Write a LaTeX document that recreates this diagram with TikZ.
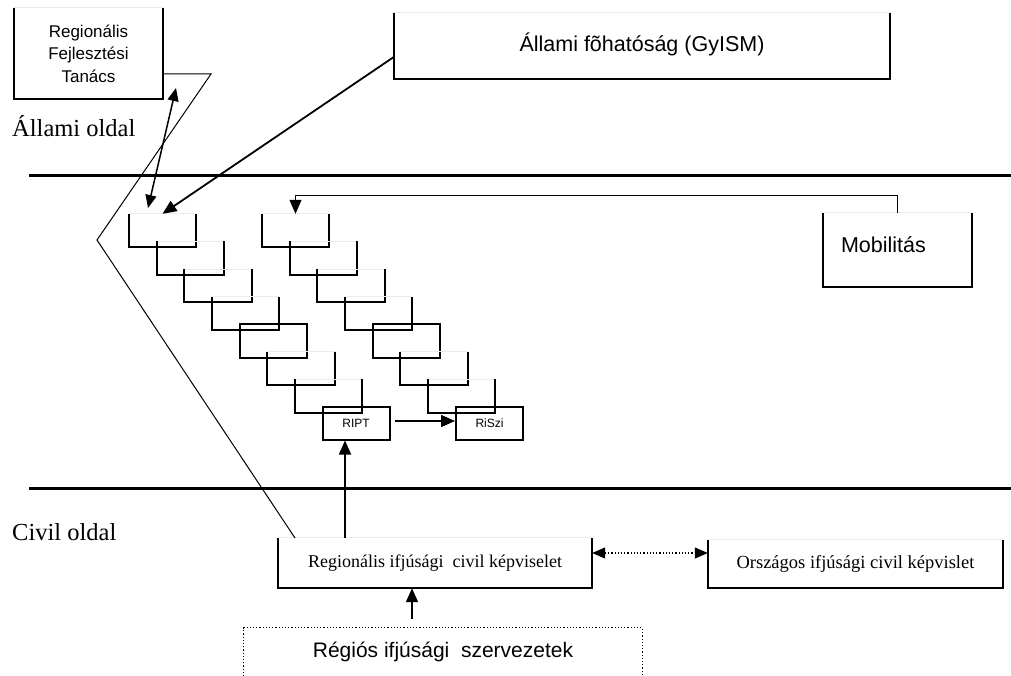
\documentclass[tikz,border=0pt]{standalone}
\usepackage{fontspec}
\setmainfont{Liberation Serif}
\newfontfamily\tah{Liberation Sans}
\usetikzlibrary{arrows.meta,calc}
\tikzset{
  boxline/.style={line width=2pt},
  faint/.style={line width=1pt, draw=black!8},
  sepline/.style={line width=3pt},
  thinline/.style={line width=1pt},
  tip/.style={-{Triangle[length=14pt,width=12pt]}},
  arr/.style={line width=1.8pt, tip},
  darr/.style={line width=1.5pt, {Triangle[length=13pt,width=11pt]}-{Triangle[length=13pt,width=11pt]}},
  bx/.style={inner sep=0pt, draw=none},
  stairbox/.style={bx, minimum width=67pt, minimum height=33pt},
}
\newcommand\boxat[7]{\node[bx,minimum width={(#4)-(#2)}, minimum height={(#5)-(#3)},#6] (#1) at ({((#2)+(#4))/2},{((#3)+(#5))/2}) {#7};}
\newcommand\obox[1]{\draw[faint] (#1.north west) -- (#1.north east);
  \draw[boxline] (#1.north west) -- (#1.south west) -- (#1.south east) -- (#1.north east);}
\begin{document}
\begin{tikzpicture}[x=1pt,y=-1pt]
\useasboundingbox (0,0) rectangle (1011,676);
\fill[white] (0,0) rectangle (1011,676);

% separator lines
\draw[sepline] (29,176) -- (1011,176);
\draw[sepline] (29,488) -- (1011,488);

% side labels
\node[anchor=base west, inner sep=0] (allamiold) at (12,137) {\fontsize{24.5}{28}\selectfont Állami oldal};
\node[anchor=base west, inner sep=0] (civilold) at (12,540) {\fontsize{24.5}{28}\selectfont Civil oldal};

% top boxes
\boxat{rft}{14}{8}{163}{99}{align=center, font=\tah\fontsize{17}{22.5}\selectfont}{Regionális\\Fejlesztési\\Tanács}
\obox{rft}
\boxat{fohat}{394}{13}{890}{79}{}{\raisebox{8pt}{\tah\fontsize{21.5}{25}\selectfont Állami fõhatóság (GyISM)}}
\obox{fohat}
\boxat{mob}{823}{213}{972}{287}{text width=149pt, align=left}{\raisebox{10pt}{\hspace*{18pt}\tah\fontsize{21.5}{25}\selectfont Mobilitás}}
\obox{mob}

% staircases
\foreach \i in {0,...,6} {
  \node[stairbox] (L\i) at ({162.5+27.7*\i},{230.5+27.6*\i}) {};
  \node[stairbox] (R\i) at ({295.5+27.7*\i},{230.5+27.6*\i}) {};
  \ifnum\i=4
    \draw[boxline] (L\i.north west) rectangle (L\i.south east);
    \draw[boxline] (R\i.north west) rectangle (R\i.south east);
  \else
    \obox{L\i}
    \obox{R\i}
  \fi
}
\node[stairbox, draw, line width=2pt] (ript) at (356,423) {\tah\fontsize{12}{14}\selectfont RIPT};
\node[stairbox, draw, line width=2pt] (riszi) at (489.5,423) {\tah\fontsize{12}{14}\selectfont RiSzi};

% civil boxes
\boxat{rik}{278}{538}{592}{588}{}{\raisebox{3pt}{\fontsize{18}{22}\selectfont Regionális ifjúsági\ \ civil képviselet}}
\obox{rik}
\boxat{orsz}{708}{540}{1003}{588}{}{\raisebox{5pt}{\fontsize{18.5}{22}\selectfont Országos ifjúsági civil képvislet}}
\obox{orsz}
\boxat{reg}{244}{628}{642}{676}{}{\raisebox{2pt}{\tah\fontsize{21}{25}\selectfont Régiós ifjúsági\ \ szervezetek}}
\draw[line width=1.2pt, dotted] (reg.south west) -- (reg.north west) -- (reg.north east) -- (reg.south east);

% connectors
\coordinate (z1) at (211,74);
\coordinate (z2) at (97,240);
\coordinate (z3) at (295,538);
\draw[thinline] (rft.east |- z1) -- (z1) -- (z2) -- (z3);

\coordinate (rfA) at (176,88);
\coordinate (rfB) at (148,208);
\draw[darr] (rfB) -- (rfA);

\draw[arr] (fohat.west |- 0,57) -- (L0.north);

\draw[thinline, tip] (mob.north) -- ++(0,-17) -| (R0.north);

\draw[line width=1.5pt, tip] ($(ript.east)+(4,-2)$) -- ($(riszi.west)+(0,-2)$);

\draw[arr] (rik.north -| 345,0) -- (ript.south -| 345,0);
\draw[arr] ($(reg.north -| 412,0)+(0,-9)$) -- (rik.south -| 412,0);

\draw[line width=1.2pt, dotted, {Triangle[length=13pt,width=11pt]}-{Triangle[length=13pt,width=11pt]}] (rik.east |- 0,553) -- (orsz.west |- 0,553);
\end{tikzpicture}
\end{document}
